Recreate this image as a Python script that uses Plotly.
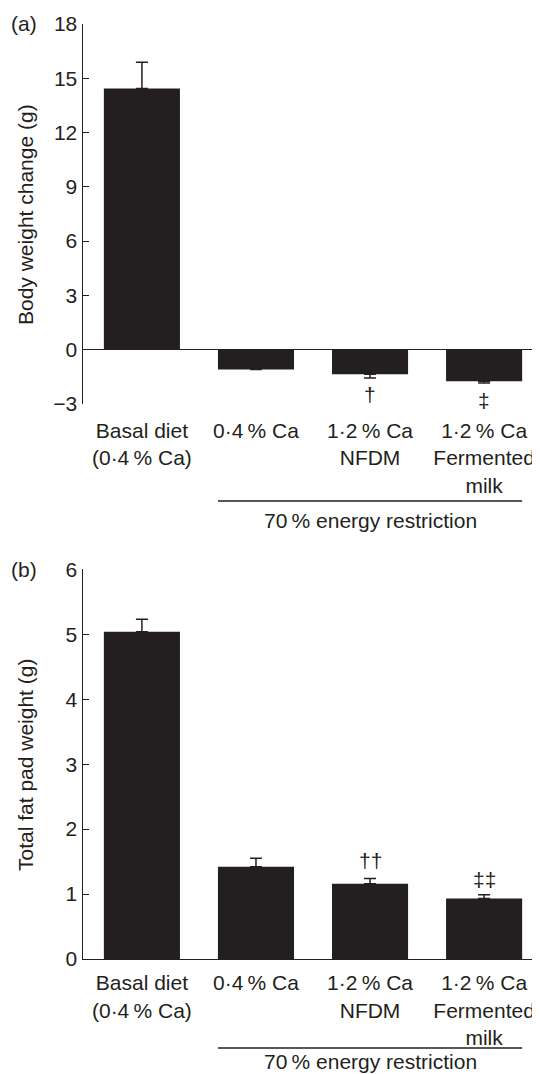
import plotly.graph_objects as go

# ---------------- data ----------------
categories = ["Basal diet<br>(0\u00b74\u2009% Ca)", "0\u00b74\u2009% Ca",
              "1\u00b72\u2009% Ca<br>NFDM", "1\u00b72\u2009% Ca<br>Fermented<br>milk"]
x_pos = [0, 1, 2, 3]

bw_change = [14.43, -1.09, -1.36, -1.74]      # body weight change (g)
bw_err_up = [1.45, 0.0, 0.0, 0.0]
bw_err_down = [0.0, 0.0, 0.21, 0.10]
bw_marks = ["", "", "\u2020", "\u2021"]
bw_mark_y = [0, 0, -2.5, -2.82]

fat_pad = [5.04, 1.42, 1.16, 0.93]            # total fat pad weight (g)
fat_err = [0.19, 0.13, 0.08, 0.06]
fat_marks = ["", "", "\u2020\u2020", "\u2021\u2021"]
fat_mark_y = [0, 0, 1.52, 1.23]

a_ticks = [-3, 0, 3, 6, 9, 12, 15, 18]
b_ticks = [0, 1, 2, 3, 4, 5, 6]

# ---------------- style ----------------
INK = "#231f20"
FONT = "Liberation Sans, Arial, Helvetica, sans-serif"
OFF = 8                      # default page body margin
W, H = 540 - OFF, 1074 - OFF
FS = 21

def px_x(px):
    return (px - OFF) / W

def py(px):
    return 1 - (px - OFF) / H

fig = go.Figure()

fig.add_trace(go.Bar(
    x=x_pos, y=bw_change, marker=dict(color=INK, line=dict(width=0)),
    error_y=dict(type="data", symmetric=False, array=bw_err_up, arrayminus=bw_err_down,
                 color=INK, thickness=1.5, width=6),
    xaxis="x", yaxis="y", showlegend=False))

fig.add_trace(go.Bar(
    x=x_pos, y=fat_pad, marker=dict(color=INK, line=dict(width=0)),
    error_y=dict(type="data", symmetric=False, array=fat_err, arrayminus=[0] * 4,
                 color=INK, thickness=1.5, width=6),
    xaxis="x2", yaxis="y2", showlegend=False))

x_dom = [px_x(82.6), 1.0]
xr = [-0.52, 3.49]

fig.update_layout(
    template="none",
    width=W, height=H, margin=dict(l=0, r=0, t=0, b=0, autoexpand=False),
    paper_bgcolor="white", plot_bgcolor="white",
    font=dict(family=FONT, size=FS, color=INK),
    bargap=0.333,
    xaxis=dict(domain=x_dom, range=xr, anchor="y", tickvals=x_pos, ticktext=categories,
               showline=False, showgrid=False, zeroline=False, ticks="", automargin=False,
               ticklabelstandoff=12, tickfont=dict(size=FS, color=INK)),
    yaxis=dict(domain=[py(404), py(24)], range=[-3, 18], anchor="x", automargin=False,
               tickvals=a_ticks, showgrid=False, showline=True, linecolor=INK, linewidth=1.3,
               ticks="inside", ticklen=6, tickwidth=1.3, tickcolor=INK,
               zeroline=True, zerolinecolor=INK, zerolinewidth=1.3,
               tickfont=dict(size=FS, color=INK)),
    xaxis2=dict(domain=x_dom, range=xr, anchor="y2", tickvals=x_pos, ticktext=categories,
                showline=True, linecolor=INK, linewidth=1.3, showgrid=False, zeroline=False,
                ticks="", automargin=False, ticklabelstandoff=5,
                tickfont=dict(size=FS, color=INK)),
    yaxis2=dict(domain=[py(959), py(569.3)], range=[0, 6], anchor="x2", automargin=False,
                tickvals=b_ticks, showgrid=False, showline=True, linecolor=INK, linewidth=1.3,
                ticks="inside", ticklen=6, tickwidth=1.3, tickcolor=INK, zeroline=False,
                tickfont=dict(size=FS, color=INK)),
)

ann = []
# panel letters
ann.append(dict(text="(a)", x=px_x(24), y=py(24), xref="paper", yref="paper",
                showarrow=False, xanchor="center", yanchor="middle"))
ann.append(dict(text="(b)", x=px_x(24), y=py(569), xref="paper", yref="paper",
                showarrow=False, xanchor="center", yanchor="middle"))
# y-axis titles
ann.append(dict(text="Body weight change (g)", x=px_x(25), y=py(215), xref="paper", yref="paper",
                textangle=-90, showarrow=False, xanchor="center", yanchor="middle"))
ann.append(dict(text="Total fat pad weight (g)", x=px_x(25), y=py(765), xref="paper", yref="paper",
                textangle=-90, showarrow=False, xanchor="center", yanchor="middle"))
# significance marks
for xi, m, yy in zip(x_pos, bw_marks, bw_mark_y):
    if m:
        ann.append(dict(text=m, x=xi, y=yy, xref="x", yref="y", showarrow=False,
                        xanchor="center", yanchor="middle", font=dict(size=FS)))
for xi, m, yy in zip(x_pos, fat_marks, fat_mark_y):
    if m:
        ann.append(dict(text=m, x=xi, y=yy, xref="x2", yref="y2", showarrow=False,
                        xanchor="center", yanchor="middle", font=dict(size=FS)))
# group labels
ann.append(dict(text="70\u2009% energy restriction", x=2, y=py(520), xref="x", yref="paper",
                showarrow=False, xanchor="center", yanchor="middle"))
ann.append(dict(text="70\u2009% energy restriction", x=2, y=1.0 - (1061 - OFF) / H,
                xref="x2", yref="paper", showarrow=False, xanchor="center", yanchor="middle"))
fig.update_layout(annotations=ann)

shapes = [
    dict(type="line", xref="x", yref="paper", x0=1 - 0.333, x1=3 + 0.333,
         y0=py(501), y1=py(501), line=dict(color=INK, width=1.3)),
    dict(type="line", xref="x2", yref="paper", x0=1 - 0.333, x1=3 + 0.333,
         y0=py(1048), y1=py(1048), line=dict(color=INK, width=1.3)),
]
fig.update_layout(shapes=shapes)

fig.write_html("out.html")
